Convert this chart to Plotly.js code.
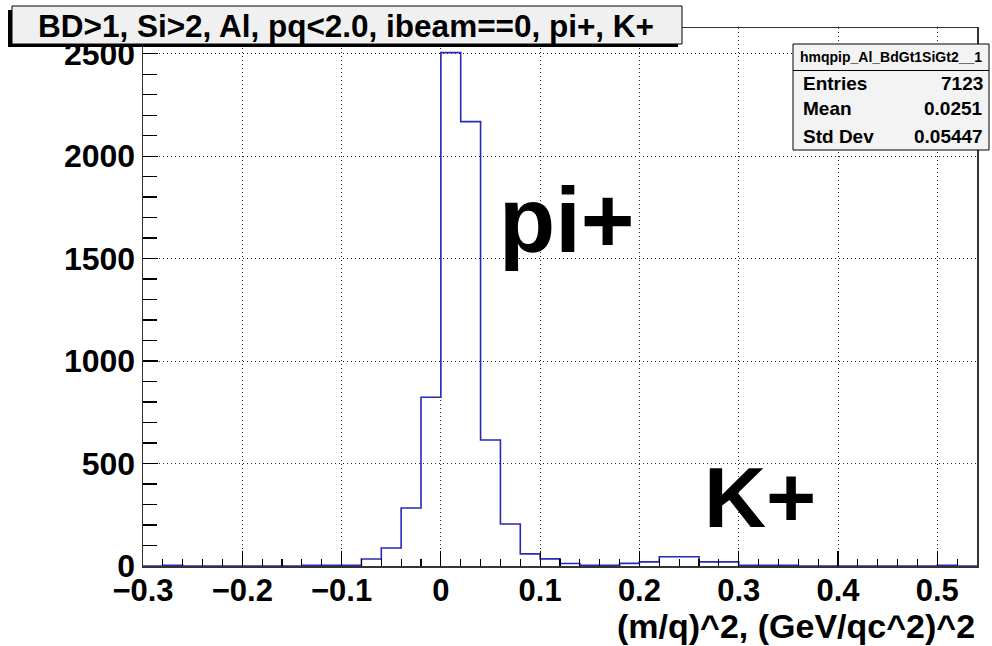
<!DOCTYPE html>
<html>
<head>
<meta charset="utf-8">
<script src="https://cdn.plot.ly/plotly-3.0.1.min.js"></script>
<style>html,body{margin:0;padding:0;background:#fff;}#chart{width:992px;height:646px;}</style>
</head>
<body>
<div id="chart"></div>
<script>
// ---- data ----
const histName = "hmqpip_Al_BdGt1SiGt2__1";
const titleText = "BD>1, Si>2, Al, pq<2.0, ibeam==0, pi+, K+";
const xAxisTitle = "(m/q)^2, (GeV/qc^2)^2";
const binLow = -0.30;
const binWidth = 0.02;
const counts = [0, 4, 0, 0, 0, 0, 0, 0, 3, 3, 4, 34, 88, 283, 823, 2505, 2168, 615, 205, 59,
                35, 12, 4, 4, 13, 20, 45, 45, 20, 20, 4, 4, 4, 0, 0, 0, 0, 0, 0, 0, 4, 0];
const statLabels = ["Entries", "Mean", "Std Dev"];
const statValues = ["7123", "0.0251", "0.05447"];
const xTickVals = [-0.3, -0.2, -0.1, 0, 0.1, 0.2, 0.3, 0.4, 0.5];
const yTickVals = [0, 500, 1000, 1500, 2000, 2500];

// ---- geometry helpers (pixels -> paper) ----
const L = 143, R = 15, T = 28, B = 80, W = 992, H = 646;
const PW = W - L - R, PH = H - T - B;
const px = v => (v - L) / PW;
const py = v => (H - B - v) / PH;

// outline of histogram (step)
const xs = [], ys = [];
for (let i = 0; i < counts.length; i++) { xs.push(binLow + i * binWidth); ys.push(counts[i]); }
xs.push(binLow + counts.length * binWidth); ys.push(counts[counts.length - 1]);

const FONT = "Liberation Sans, Arial, Helvetica, sans-serif";

const trace = {
  type: "scatter", mode: "lines", x: xs, y: ys,
  line: {shape: "hv", color: "rgb(40,40,185)", width: 1.6},
  hoverinfo: "skip", showlegend: false
};

const annotations = [
  {xref: "paper", yref: "paper", x: px(346), y: py(26), xanchor: "center", yanchor: "middle",
   text: titleText, showarrow: false, font: {family: FONT, size: 31.5, weight: "bold", color: "#000"}},
  {xref: "paper", yref: "paper", x: px(891), y: py(57), xanchor: "center", yanchor: "middle",
   text: histName, showarrow: false, font: {family: FONT, size: 14, weight: "bold", color: "#000"}},
  {xref: "paper", yref: "paper", x: px(977), y: py(626), xanchor: "right", yanchor: "middle",
   text: xAxisTitle, showarrow: false, font: {family: FONT, size: 34, weight: "bold", color: "#000"}},
  {xref: "paper", yref: "paper", x: px(566), y: py(220), xanchor: "center", yanchor: "middle",
   text: "pi+", showarrow: false, font: {family: FONT, size: 92, weight: "bold", color: "#000"}},
  {xref: "paper", yref: "paper", x: px(760), y: py(497), xanchor: "center", yanchor: "middle",
   text: "K+", showarrow: false, font: {family: FONT, size: 86, weight: "bold", color: "#000"}}
];
const rowY = [83, 109, 136];
statLabels.forEach((s, i) => {
  annotations.push({xref: "paper", yref: "paper", x: px(801), y: py(rowY[i]), xanchor: "left", yanchor: "middle",
    text: s, showarrow: false, font: {family: FONT, size: 19, weight: "bold", color: "#000"}});
  annotations.push({xref: "paper", yref: "paper", x: px(985), y: py(rowY[i]), xanchor: "right", yanchor: "middle",
    text: statValues[i], showarrow: false, font: {family: FONT, size: 19, weight: "bold", color: "#000"}});
});

const shapes = [
  // title box shadow + box
  {type: "rect", xref: "paper", yref: "paper", x0: px(8), x1: px(678), y0: py(47), y1: py(10),
   fillcolor: "#000", line: {width: 0}},
  {type: "rect", xref: "paper", yref: "paper", x0: px(12), x1: px(682), y0: py(44), y1: py(6),
   fillcolor: "#f0f0f0", line: {color: "#000", width: 1}},
  // stats box
  {type: "rect", xref: "paper", yref: "paper", x0: px(793), x1: px(989), y0: py(150), y1: py(44),
   fillcolor: "#f3f3f3", line: {color: "#000", width: 1}},
  {type: "line", xref: "paper", yref: "paper", x0: px(793), x1: px(989), y0: py(70.5), y1: py(70.5),
   line: {color: "#000", width: 1}}
];

const layout = {
  width: W, height: H,
  margin: {l: L, r: R, t: T, b: B, pad: 0},
  paper_bgcolor: "#fff", plot_bgcolor: "#fff",
  showlegend: false,
  font: {family: FONT, color: "#000"},
  xaxis: {
    range: [-0.30, 0.54], tickvals: xTickVals, ticktext: xTickVals.map(v => (v < 0 ? "\u2212" + Math.abs(v) : String(v))),
    ticks: "inside", ticklen: 15, tickwidth: 1.2, tickcolor: "#000", ticklabelstandoff: -4,
    minor: {dtick: 0.02, tick0: -0.3, ticks: "inside", ticklen: 7, tickwidth: 1.2, tickcolor: "#000", showgrid: false},
    showgrid: true, gridcolor: "#222", gridwidth: 1, griddash: "1px,3px",
    zeroline: false, showline: true, linecolor: "#333", linewidth: 1.5, mirror: true,
    tickfont: {family: FONT, size: 31, weight: "bold", color: "#000"}
  },
  yaxis: {
    range: [0, 2625], tickvals: yTickVals,
    ticks: "inside", ticklen: 15, tickwidth: 1.2, tickcolor: "#000",
    minor: {dtick: 100, tick0: 0, ticks: "inside", ticklen: 14, tickwidth: 1.2, tickcolor: "#000", showgrid: false},
    showgrid: true, gridcolor: "#222", gridwidth: 1, griddash: "1px,3px",
    zeroline: false, showline: true, linecolor: "#333", linewidth: 1.5, mirror: true,
    tickfont: {family: FONT, size: 32, weight: "bold", color: "#000"}
  },
  annotations: annotations,
  shapes: shapes
};

Plotly.newPlot("chart", [trace], layout, {displayModeBar: false, staticPlot: true});
</script>
</body>
</html>
